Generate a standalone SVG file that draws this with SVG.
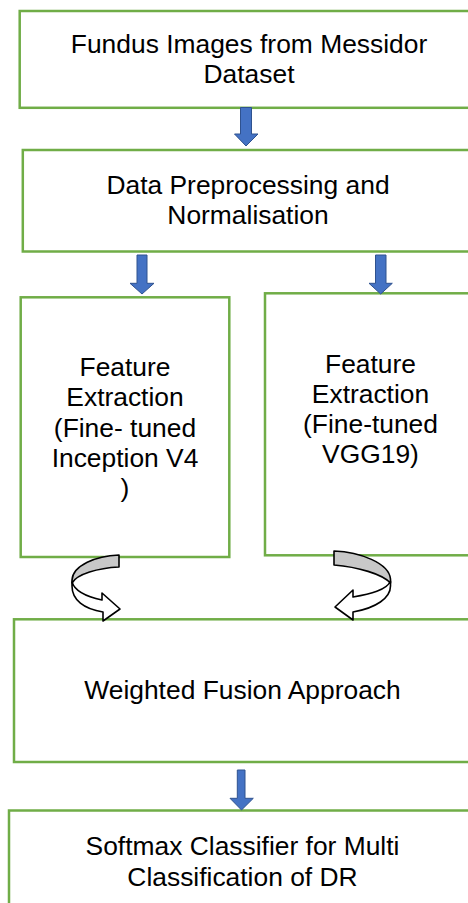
<svg xmlns="http://www.w3.org/2000/svg" width="468" height="903" viewBox="0 0 468 903">
<style>
.box{fill:#ffffff;stroke:#70AD47;stroke-width:2.5}
.t{font-family:"Liberation Sans",Arial,sans-serif;font-size:26.4px;fill:#000000;text-anchor:middle}
.blue{fill:#4472C4;stroke:#2F528F;stroke-width:1}
.curvg{fill:#C8C8C8;stroke:#000000;stroke-width:1.6;stroke-linejoin:round}
.curvw{fill:#ffffff;stroke:#000000;stroke-width:1.6;stroke-linejoin:round}
</style>
<rect width="468" height="903" fill="#ffffff"/>
<g id="node-fundus">
<rect class="box" x="19.7" y="11" width="470" height="96.8"/>
<text class="t" x="249" y="53.3">Fundus Images from Messidor</text>
<text class="t" x="249" y="83.3">Dataset</text>
</g>
<g id="node-preprocess">
<rect class="box" x="22.8" y="150" width="470" height="101.5"/>
<text class="t" x="248" y="194">Data Preprocessing and</text>
<text class="t" x="248" y="224">Normalisation</text>
</g>
<g id="node-inception">
<rect class="box" x="20.7" y="297.3" width="208.6" height="259.7"/>
<text class="t" x="125" y="376">Feature</text>
<text class="t" x="125" y="406">Extraction</text>
<text class="t" x="125" y="436.7">(Fine- tuned</text>
<text class="t" x="125" y="466.7">Inception V4</text>
<text class="t" x="125" y="496.7">)</text>
</g>
<g id="node-vgg">
<rect class="box" x="265" y="293.3" width="230" height="262"/>
<text class="t" x="370.5" y="372.7">Feature</text>
<text class="t" x="370.5" y="402.7">Extraction</text>
<text class="t" x="370.5" y="433.3">(Fine-tuned</text>
<text class="t" x="370.5" y="463.3">VGG19)</text>
</g>
<g id="node-fusion">
<rect class="box" x="14" y="619.3" width="480" height="142.7"/>
<text class="t" x="242.5" y="699.3">Weighted Fusion Approach</text>
</g>
<g id="node-softmax">
<rect class="box" x="9" y="810.5" width="480" height="120"/>
<text class="t" x="242.5" y="855">Softmax Classifier for Multi</text>
<text class="t" x="242.5" y="886">Classification of DR</text>
</g>
<g id="connectors">
<path class="blue" d="M240.5,107.5 H251.5 V134 H258 L246,146 L234.5,134 H240.5 Z"/>
<path class="blue" d="M137,255 H147 V283.3 H154 L142,294 L130,283.3 H137 Z"/>
<path class="blue" d="M375.5,255 H386 V283.3 H392.3 L380.7,294 L369,283.3 H375.5 Z"/>
<path class="blue" d="M237.3,770 H245 V798.3 H253.3 L241.5,810 L230,798.3 H237.3 Z"/>
<path class="curvg" d="M119,555 C96,556 73,565 72,580 L72,583 C77,574 98,568 119,567 Z"/>
<path class="curvw" d="M72,582 C75,592 88,597 102,600 L102,593 L120,609 L103,621 L103,612 C84,609 72,600 72,586 Z"/>
<path class="curvg" d="M334,551 C360,552 389,563 390.5,579 L390.5,583 C382,574 358,567 334,565 Z"/>
<path class="curvw" d="M390.5,581 C387,590 370,594 353,597 L353,590 L335,607 L353,620 L353,612 C376,608 390.5,598 390.5,586 Z"/>
</g>
</svg>
